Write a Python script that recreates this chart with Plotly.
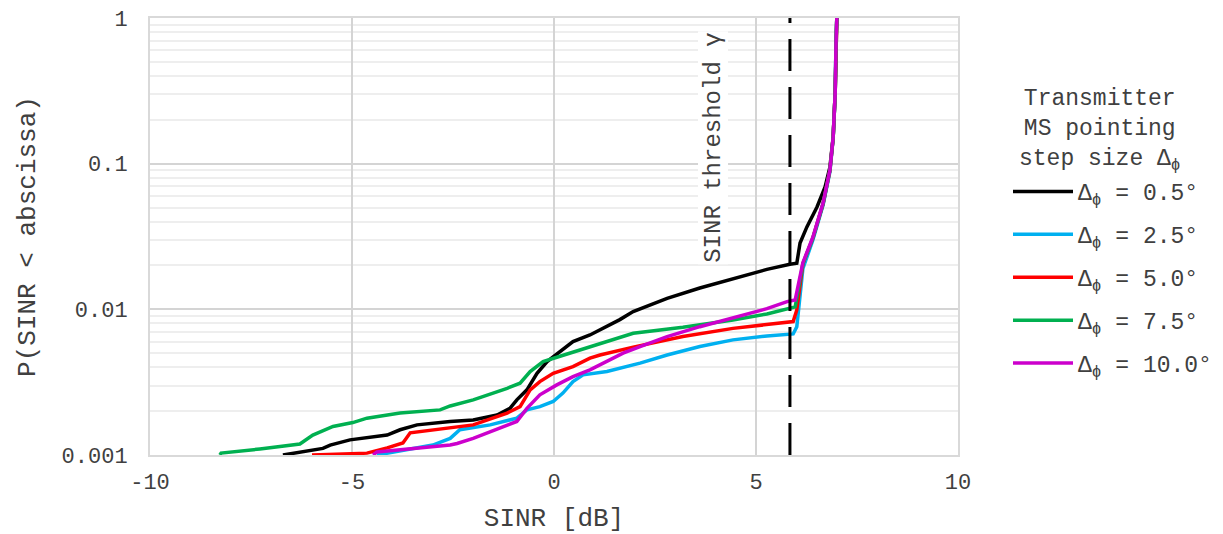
import plotly.graph_objects as go

# ---- data ----
x_05 = [-6.71, -6.29, -5.72, -5.54, -5.05, -4.13, -3.81, -3.39, -2.57, -2.00, -1.41, -1.09, -0.92, -0.67,
        -0.42, -0.17, 0.15, 0.47, 0.89, 1.31, 1.63, 1.96, 2.80, 3.61, 4.43, 5.27, 5.84, 6.01, 6.09, 6.26,
        6.51, 6.71, 6.83, 6.91, 6.96, 6.98, 7.00]
p_05 = [0.001, 0.00105, 0.00111, 0.00117, 0.00127, 0.00137, 0.00149, 0.00161, 0.0017, 0.00174, 0.00188,
        0.00209, 0.00239, 0.0028, 0.00364, 0.00438, 0.00513, 0.006, 0.00667, 0.0076, 0.0085, 0.00965,
        0.0119, 0.0140, 0.0163, 0.0188, 0.0204, 0.0207, 0.0285, 0.0368, 0.0504, 0.0692, 0.0948, 0.152,
        0.306, 0.67, 1.0]

x_25 = [-4.38, -3.00, -2.57, -2.33, -1.58, -0.92, -0.67, -0.35, -0.02, 0.22, 0.47, 0.72, 1.31, 2.13,
        2.80, 3.61, 4.43, 5.27, 5.92, 6.01, 6.16, 6.41, 6.66, 6.83, 6.91, 6.96, 6.98, 7.00]
p_25 = [0.001, 0.00117, 0.0013, 0.00149, 0.00161, 0.00179, 0.00204, 0.00215, 0.00233, 0.00266, 0.00319,
        0.00355, 0.00374, 0.00427, 0.00486, 0.00555, 0.00617, 0.00657, 0.00678, 0.0076, 0.019, 0.030,
        0.052, 0.088, 0.15, 0.30, 0.66, 1.0]

x_50 = [-5.99, -4.63, -4.13, -3.74, -3.56, -3.00, -2.57, -2.00, -1.16, -0.84, -0.59, -0.35, -0.02, 0.47,
        0.89, 1.14, 1.96, 3.19, 4.43, 5.92, 6.01, 6.16, 6.41, 6.66, 6.83, 6.91, 6.96, 6.98, 7.00]
p_50 = [0.001, 0.00103, 0.00112, 0.00121, 0.00142, 0.00149, 0.00153, 0.00161, 0.00194, 0.00215, 0.0028,
        0.00319, 0.00364, 0.00404, 0.00462, 0.00486, 0.0055, 0.0065, 0.0074, 0.00824, 0.0099, 0.0205,
        0.031, 0.053, 0.09, 0.151, 0.305, 0.67, 1.0]

x_75 = [-8.27, -8.24, -7.28, -6.29, -5.97, -5.47, -4.98, -4.63, -3.81, -2.82, -2.57, -2.00, -1.16, -0.84,
        -0.59, -0.27, 0.07, 0.89, 1.14, 1.96, 3.19, 4.43, 5.27, 5.84, 5.97, 6.16, 6.41, 6.66, 6.83, 6.91,
        6.96, 6.98, 7.00]
p_75 = [0.001, 0.00103, 0.0011, 0.00119, 0.00137, 0.00157, 0.00167, 0.00179, 0.00194, 0.00204, 0.00217,
        0.00239, 0.00287, 0.00311, 0.00374, 0.00438, 0.00469, 0.00555, 0.00585, 0.00685, 0.00754, 0.00846,
        0.0093, 0.0101, 0.0104, 0.0205, 0.031, 0.053, 0.09, 0.151, 0.305, 0.67, 1.0]

x_100 = [-4.48, -4.38, -2.57, -2.40, -2.00, -1.58, -1.16, -0.92, -0.67, -0.35, 0.07, 0.47, 0.89, 1.31,
         1.71, 2.13, 2.80, 3.61, 4.43, 5.27, 5.77, 5.97, 6.16, 6.41, 6.66, 6.83, 6.91, 6.96, 6.98, 7.00]
p_100 = [0.001, 0.00105, 0.00117, 0.0012, 0.0013, 0.00144, 0.00158, 0.0017, 0.00209, 0.00259, 0.00303,
         0.00345, 0.00384, 0.00438, 0.005, 0.00555, 0.0065, 0.0076, 0.00869, 0.0101, 0.0113, 0.0116,
         0.0209, 0.0314, 0.0537, 0.0906, 0.152, 0.306, 0.67, 1.0]

series_names = ["Δ<sub>ϕ</sub> = 0.5°", "Δ<sub>ϕ</sub> = 2.5°", "Δ<sub>ϕ</sub> = 5.0°",
                "Δ<sub>ϕ</sub> = 7.5°", "Δ<sub>ϕ</sub> = 10.0°"]
series_colors = ["#000000", "#00b0f0", "#ff0000", "#00b050", "#cc00cc"]
series_x = [x_05, x_25, x_50, x_75, x_100]
series_p = [p_05, p_25, p_50, p_75, p_100]

legend_title = "Transmitter<br>MS pointing<br>step size Δ<sub>ϕ</sub>"
threshold_db = 5.84
x_tickvals = [-10, -5, 0, 5, 10]
x_ticktext = ["-10", "-5", "0", "5", "10"]
y_tickvals = [0.001, 0.01, 0.1, 1]
y_ticktext = ["0.001", "0.01", "0.1", "1"]
y_minor = [m * 10 ** e for e in (-3, -2, -1) for m in range(2, 10)]

FONT = "Liberation Mono, Courier New, monospace"
TXT = "#404040"

W, H = 1223, 534
ML, MR, MT, MB = 150, 265, 18, 79
plot_w = W - ML - MR
plot_h = H - MT - MB

fig = go.Figure()
for i, (name, col, xs, ps) in enumerate(zip(series_names, series_colors, series_x, series_p)):
    fig.add_trace(go.Scatter(x=xs, y=ps, mode="lines", name=name, legendgroup=f"g{i}",
                             line=dict(color=col, width=3.5)))

fig.add_shape(type="line", xref="x", yref="paper", x0=threshold_db, x1=threshold_db, y0=0, y1=1,
              line=dict(color="black", width=3, dash="32px,16px"), layer="above")

fig.add_annotation(x=3.94, xref="x", y=-0.89, yref="y", text="SINR threshold γ", textangle=-90,
                   showarrow=False, bgcolor="white", font=dict(family=FONT, size=24, color=TXT))

# legend title drawn as a centred text block
fig.add_annotation(x=(1100 - ML) / plot_w, xref="paper", xanchor="center",
                   y=(H - MB - 130) / plot_h, yref="paper", yanchor="middle",
                   text=legend_title, showarrow=False, align="center",
                   font=dict(family=FONT, size=23, color=TXT))

fig.update_layout(
    width=W, height=H,
    margin=dict(l=ML, r=MR, t=MT, b=MB),
    paper_bgcolor="white", plot_bgcolor="white",
    font=dict(family=FONT, size=22, color=TXT),
    showlegend=True,
    legend=dict(xref="container", x=1008 / W, xanchor="left",
                yref="container", y=1 - 170 / H, yanchor="top",
                font=dict(family=FONT, size=23, color=TXT),
                tracegroupgap=10, itemwidth=60),
    xaxis=dict(range=[-10, 10], tickvals=x_tickvals, ticktext=x_ticktext, automargin=False,
               showgrid=True, gridcolor="#d4d4d4", gridwidth=2, zeroline=False,
               showline=True, mirror=True, linecolor="#d9d9d9", linewidth=2,
               ticks="", ticklabelstandoff=6,
               title=dict(text="SINR [dB]", standoff=24)),
    yaxis=dict(type="log", range=[-3, 0], tickvals=y_tickvals, ticktext=y_ticktext, automargin=False,
               showgrid=True, gridcolor="#d4d4d4", gridwidth=2, zeroline=False,
               showline=True, mirror=True, linecolor="#d9d9d9", linewidth=2,
               ticks="", ticklabelstandoff=16,
               minor=dict(tickvals=y_minor, showgrid=True, gridcolor="#eeeeee", gridwidth=2, ticks=""),
               title=dict(text="P(SINR < abscissa)", standoff=18)),
)

fig.write_html("out.html")
